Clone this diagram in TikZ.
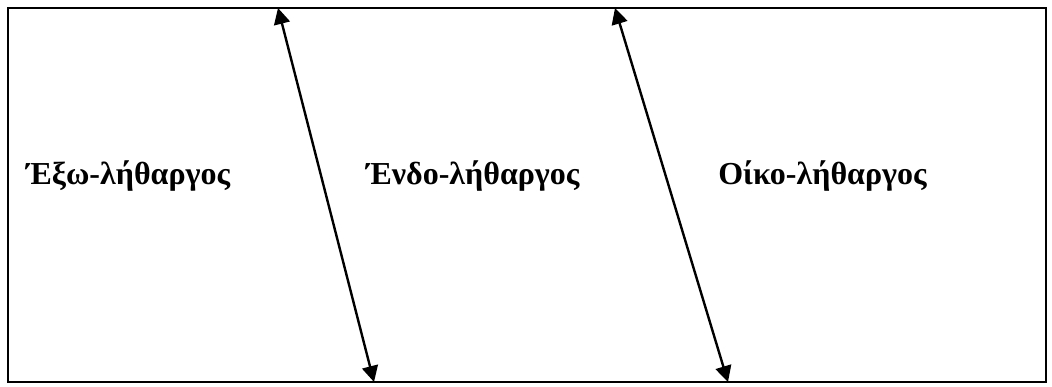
\documentclass[tikz,border=0pt]{standalone}
\usepackage{fontspec}
\setmainfont{Liberation Serif}
\usetikzlibrary{arrows.meta}
\begin{document}
\begin{tikzpicture}[x=0.75pt,y=-0.75pt,
  frame/.style={draw=black,line width=1.7pt},
  link/.style={draw=black,line width=1.8pt,{Triangle[length=12pt,width=12pt]}-{Triangle[length=12pt,width=12pt]}},
  lbl/.style={font=\fontsize{24}{28}\selectfont\bfseries,anchor=base west,inner sep=0pt}]
\useasboundingbox (0,0) rectangle (1052,386);
\draw[frame] (8,8) rectangle (1046,382);
\coordinate (a1t) at (278,8);
\coordinate (a1b) at (374,382);
\coordinate (a2t) at (615,8);
\coordinate (a2b) at (728,382);
\draw[link] (a1t) -- (a1b);
\draw[link] (a2t) -- (a2b);
\node[lbl] (exo) at (26,184) {Έξω-λήθαργος};
\node[lbl] (endo) at (366,184) {Ένδο-λήθαργος};
\node[lbl] (oiko) at (718,184) {Οίκο-λήθαργος};
\end{tikzpicture}
\end{document}
